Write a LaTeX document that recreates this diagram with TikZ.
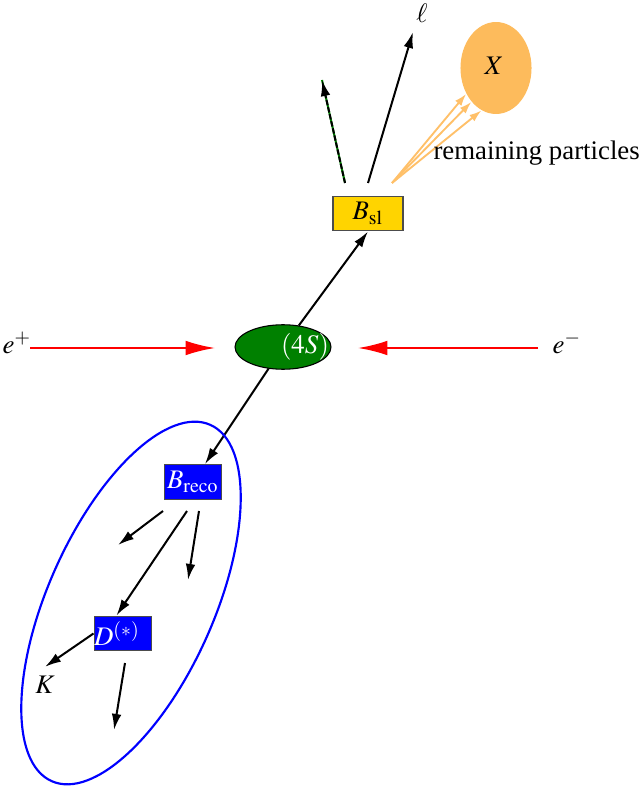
\documentclass[tikz,border=0pt]{standalone}
\usepackage{mathptmx}
\usepackage[no-math]{fontspec}
\setmainfont{Liberation Serif}
\usetikzlibrary{arrows.meta,shapes.geometric}
\definecolor{ygreen}{RGB}{0,128,0}
\definecolor{bslgold}{RGB}{255,212,0}
\definecolor{xorange}{RGB}{253,187,92}
\definecolor{porange}{RGB}{255,192,105}

\begin{document}
\begin{tikzpicture}[x=0.373pt,y=-0.373pt,
    arr/.style={line width=0.75pt,-{Latex[length=6pt,width=3.6pt]}},
    beam/.style={red,line width=0.8pt,-{Latex[length=11pt,width=5.5pt]}},
    part/.style={porange,line width=0.7pt,-{Latex[length=4.5pt,width=3pt]}},
    box/.style={draw=black!70,line width=0.4pt,minimum height=13pt,inner sep=0pt}]
        \useasboundingbox (0,0) rectangle (639,791);

        % beams and the Upsilon
        \node [ellipse,fill=ygreen,draw=black,line width=0.4pt,minimum width=35.8pt,minimum height=16.6pt,inner sep=0pt] (ups) at (283,347) {};
        \node [white] (upslbl) at (305,347) {$(4S)$};
        \node (eplus) at (17,343) {$e^+$};
        \node (eminus) at (567,343) {$e^-$};
        \coordinate (epstart) at (30,348);
        \coordinate (epend) at (215,348);
        \coordinate (emstart) at (538,348);
        \coordinate (emend) at (358,348);
        \draw [beam] (epstart)--(epend);
        \draw [beam] (emstart)--(emend);

        % semileptonic side
        \node [box,fill=bslgold,minimum width=26.1pt] (bsl) at (368,213.5) {$B_{\rm sl}$};
        \draw [arr] (ups)--(bsl.south);
        \coordinate (bsla) at (345,183);
        \coordinate (bslb) at (368,183);
        \coordinate (bslc) at (392,183);
        \coordinate (nuend) at (322,80);
        \coordinate (lepend) at (413,32);
        \node (lep) at (422,13) {$\ell$};
        \draw [ygreen,line width=0.75pt] (bsla)--(nuend);
        \draw [arr,dash pattern=on 2pt off 0.7pt] (bsla)--(nuend);
        \draw [arr] (bslb)--(lepend);
        \node [ellipse,fill=xorange,minimum width=26.5pt,minimum height=34.3pt,inner sep=0pt] (xell) at (496,68) {};
        \node (xlbl) at (494,66) {$X$};
        \draw [part] (bslc)--(xell.221);
        \draw [part] (bslc)--(xell.234);
        \draw [part] (bslc)--(xell.251);
        \node [anchor=west,inner sep=0pt] (remain) at (433,153) {remaining particles};

        % reconstructed side
        \node [box,fill=blue,text=white,minimum width=21.6pt] (breco) at (193,482) {$B_{\rm reco}$};
        \draw [arr] (ups)--(breco);
        \coordinate (brca) at (163,511);
        \coordinate (brcb) at (187,511);
        \coordinate (brcc) at (199,511);
        \coordinate (brcaend) at (118,545);
        \coordinate (brccend) at (188,580);
        \node [box,fill=blue,text=white,text width=21.6pt,align=left,minimum width=21.6pt] (dbox) at (123,633.5) {$D^{(*)}$};
        \draw [arr] (brca)--(brcaend);
        \draw [arr] (brcb)--(dbox.110);
        \draw [arr] (brcc)--(brccend);
        \node (kaon) at (45,685) {$K$};
        \draw [arr] (dbox.west)--(kaon.north);
        \coordinate (dbot) at (125,663);
        \coordinate (dbotend) at (114,730);
        \draw [arr] (dbot)--(dbotend);
        \coordinate (recoc) at (131,603);
        \draw [blue,line width=0.8pt,rotate around={-24:(recoc)}] (recoc) ellipse [x radius=83,y radius=195];
    \end{tikzpicture}
\end{document}
